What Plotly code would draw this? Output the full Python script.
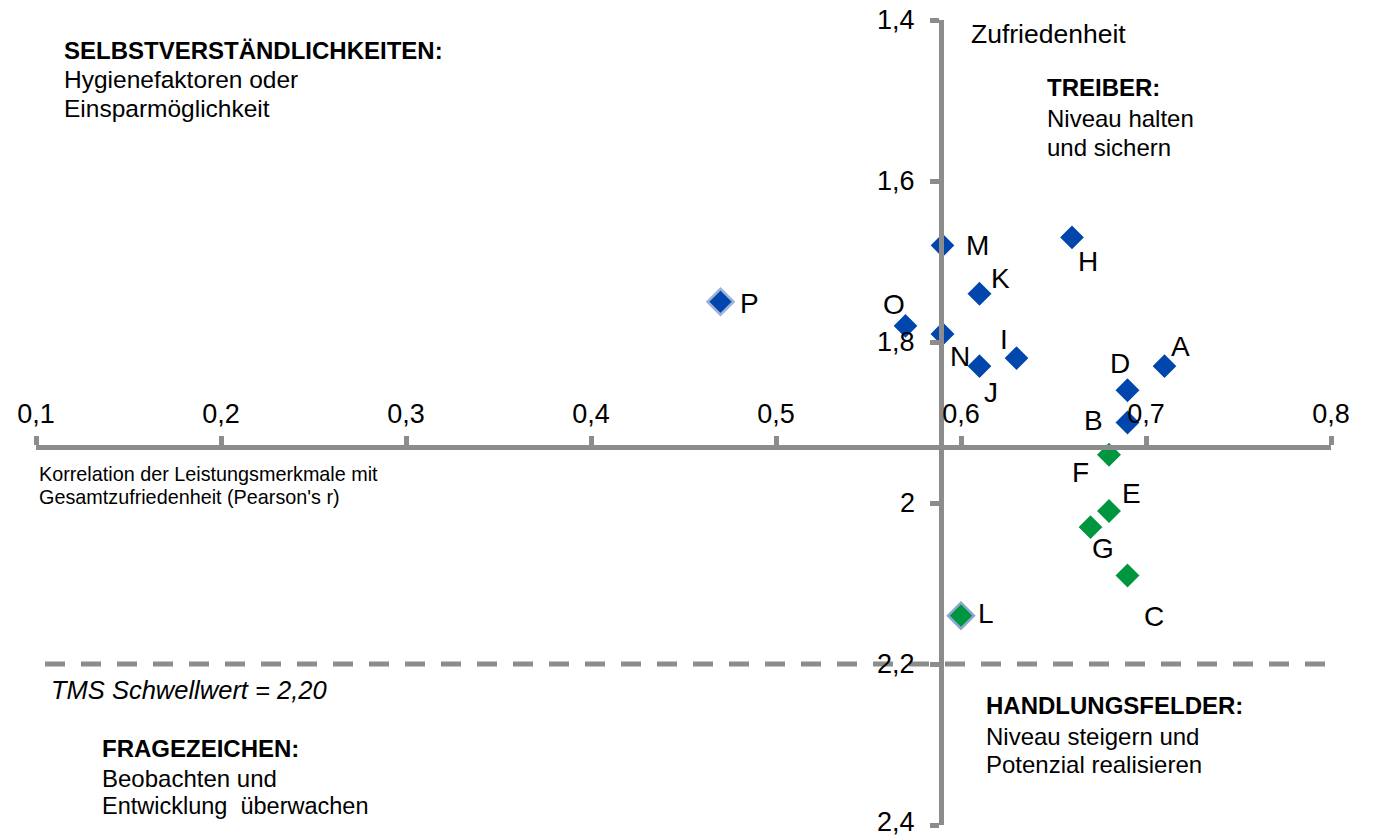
import plotly.graph_objects as go

# ---------------- data ----------------
labels = ["P", "M", "H", "K", "O", "N", "I", "J", "A", "D", "B", "F", "E", "G", "C", "L"]
correlation = [0.47, 0.59, 0.66, 0.61, 0.57, 0.59, 0.63, 0.61, 0.71, 0.69, 0.69, 0.68, 0.68, 0.67, 0.69, 0.60]
satisfaction = [1.75, 1.68, 1.67, 1.74, 1.78, 1.79, 1.82, 1.83, 1.83, 1.86, 1.90, 1.94, 2.01, 2.03, 2.09, 2.14]
group = ["blue", "blue", "blue", "blue", "blue", "blue", "blue", "blue", "blue", "blue", "blue",
         "green", "green", "green", "green", "green"]

x_ticks = [0.1, 0.2, 0.3, 0.4, 0.5, 0.6, 0.7, 0.8]
y_ticks = [1.4, 1.6, 1.8, 2.0, 2.2, 2.4]
y_tick_text = ["1,4", "1,6", "1,8", "2", "2,2", "2,4"]
x_cross = 0.589       # vertical axis crossing
y_cross = 1.93        # horizontal axis crossing
threshold = 2.20      # TMS Schwellwert

# ---------------- styles ----------------
W, H = 1375, 838
OFF = 0               # body margin removed via post_script
FONT = "Liberation Sans, Arial, sans-serif"
GRAY = "#8C8C8C"
COLORS = {"blue": "#0046AD", "green": "#00963F"}
outline = {"P": ("#9CB2DA", 2.5), "L": ("#8FA6D4", 2.5)}

# label offsets in pixels (dx right, dy down)
label_offsets = {
    "P": (29, 2), "M": (35, 0), "H": (16, 24), "K": (21, -15), "O": (-12, -21),
    "N": (17, 23), "I": (-13, -19), "J": (11, 26), "A": (16, -20), "D": (-8, -27),
    "B": (-34, -2), "F": (-29, 18), "E": (22, -18), "G": (12, 21), "C": (26, 41),
    "L": (25, -2),
}


def px_x(p):
    return (p - OFF) / W


def px_y(p):
    return 1 - (p - OFF) / H


xdom = [px_x(36), px_x(1331)]
ydom = [px_y(825), px_y(20)]
x_rng = [0.1, 0.8]
y_rng = [2.4, 1.4]

x_axis_pos = ydom[0] + (ydom[1] - ydom[0]) * (y_rng[0] - y_cross) / (y_rng[0] - y_rng[1])
y_axis_pos = xdom[0] + (xdom[1] - xdom[0]) * (x_cross - x_rng[0]) / (x_rng[1] - x_rng[0])

fig = go.Figure()

for g in ["blue", "green"]:
    idx = [i for i, gg in enumerate(group) if gg == g]
    fig.add_trace(go.Scatter(
        x=[correlation[i] for i in idx],
        y=[satisfaction[i] for i in idx],
        mode="markers",
        marker=dict(
            symbol="diamond",
            size=20,
            color=COLORS[g],
            line=dict(
                color=[outline.get(labels[i], ("white", 1.5))[0] for i in idx],
                width=[outline.get(labels[i], ("white", 1.5))[1] for i in idx],
            ),
        ),
        cliponaxis=False,
        showlegend=False,
        hoverinfo="skip",
    ))

annotations = []
for lab, xv, yv in zip(labels, correlation, satisfaction):
    dx, dy = label_offsets[lab]
    annotations.append(dict(
        x=xv, y=yv, xref="x", yref="y", text=lab, showarrow=False,
        xshift=dx, yshift=-dy, xanchor="center", yanchor="middle",
        font=dict(family=FONT, size=28, color="black"),
    ))

# y tick labels (left of the vertical axis); the last one nudged to stay inside the page
for i, (v, t) in enumerate(zip(y_ticks, y_tick_text)):
    annotations.append(dict(
        x=x_cross, y=v, xref="x", yref="y", text=t, showarrow=False,
        xanchor="right", yanchor="middle", xshift=-24,
        yshift=(3 if i == len(y_ticks) - 1 else 0),
        font=dict(family=FONT, size=27, color="black"),
    ))


def txt(text, px, py, size=24, bold=False, italic=False):
    t = text
    if bold:
        t = "<b>" + t + "</b>"
    if italic:
        t = "<i>" + t + "</i>"
    annotations.append(dict(
        x=px_x(px - 2), y=px_y(py), xref="paper", yref="paper", text=t, showarrow=False,
        xanchor="left", yanchor="middle",
        font=dict(family=FONT, size=size, color="black"),
    ))


txt("SELBSTVERSTÄNDLICHKEITEN:", 64, 50, size=24, bold=True)
txt("Hygienefaktoren oder", 64, 80, size=24.5)
txt("Einsparmöglichkeit", 64, 108, size=24.5)

txt("Zufriedenheit", 971, 34, size=26.5)
txt("TREIBER:", 1047, 88, size=24, bold=True)
txt("Niveau halten", 1047, 118)
txt("und sichern", 1047, 147)

txt("HANDLUNGSFELDER:", 986, 705, size=24, bold=True)
txt("Niveau steigern und", 986, 736)
txt("Potenzial realisieren", 986, 764)

txt("TMS Schwellwert = 2,20", 51, 690, size=25.5, italic=True)
txt("FRAGEZEICHEN:", 102, 748, size=24, bold=True)
txt("Beobachten und", 102, 778)
txt("Entwicklung  überwachen", 102, 806, size=23.5)

txt("Korrelation der Leistungsmerkmale mit", 39, 474, size=19.8)
txt("Gesamtzufriedenheit (Pearson's r)", 39, 497, size=19.8)

fig.add_shape(type="line", xref="paper", yref="y",
              x0=px_x(45), x1=px_x(1325), y0=threshold, y1=threshold,
              line=dict(color=GRAY, width=5, dash="20px,16px"), layer="below")

axis_common = dict(
    showline=True, linecolor=GRAY, linewidth=5,
    ticks="outside", ticklen=9, tickwidth=5, tickcolor=GRAY,
    showgrid=False, zeroline=False,
    tickfont=dict(family=FONT, size=27, color="black"),
    anchor="free", tickmode="array", ticklabeloverflow="allow",
)

fig.update_layout(
    width=W, height=H,
    margin=dict(l=0, r=0, t=0, b=0, autoexpand=False),
    plot_bgcolor="white", paper_bgcolor="white",
    separators=",.",
    xaxis=dict(**axis_common, domain=xdom, range=x_rng, side="top",
               position=x_axis_pos, tickvals=x_ticks, ticklabelstandoff=2),
    yaxis=dict(**axis_common, domain=ydom, range=y_rng, side="left",
               position=y_axis_pos, tickvals=y_ticks, showticklabels=False),
    annotations=annotations,
)

fig.write_html("out.html",
               config={"displayModeBar": False},
               post_script="document.body.style.margin='0px';document.body.style.overflow='hidden';")
